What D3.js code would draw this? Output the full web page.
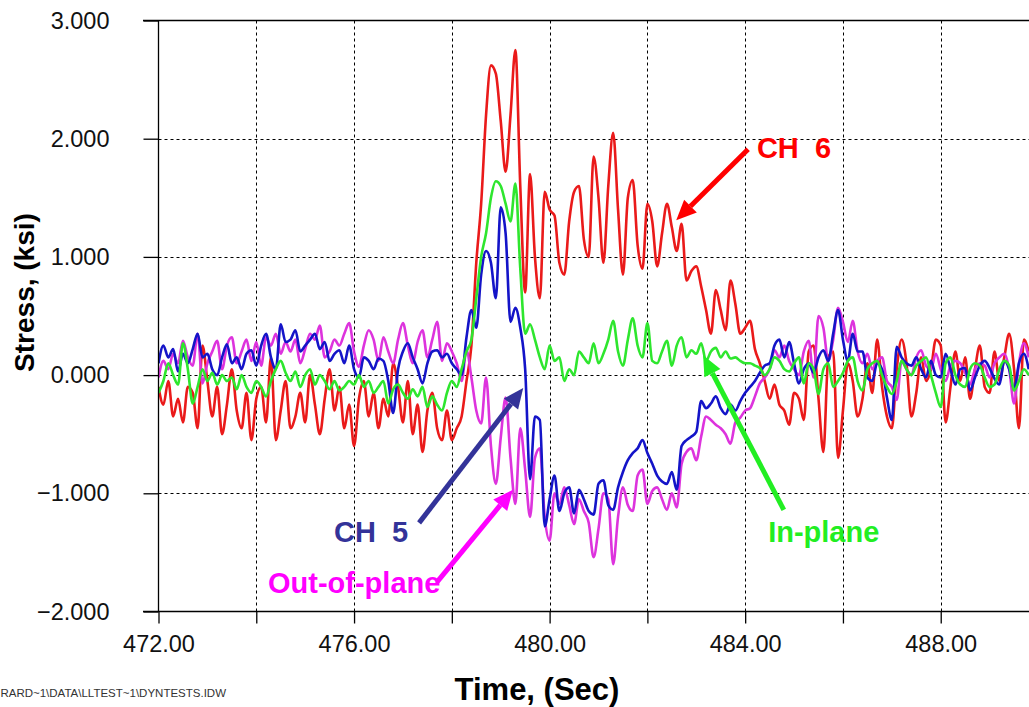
<!DOCTYPE html>
<html><head><meta charset="utf-8">
<script src="https://cdn.jsdelivr.net/npm/d3@7"></script>
<style>html,body{margin:0;padding:0;background:#fff;overflow:hidden}</style>
</head><body><svg id="c" width="1029" height="707"></svg>
<script>
// ---- data (sampled every 0.1 s from 472.0 s) ----
const tStart = 472.0, tStep = 0.1;

const ch6 = [
-0.10,-0.25,-0.05,-0.35,-0.20,-0.40,-0.10,-0.15,-0.45,0.25,
-0.05,-0.35,-0.10,-0.50,-0.25,0.05,-0.30,-0.45,-0.15,-0.55,
-0.20,-0.10,-0.40,0.15,-0.55,-0.30,-0.05,-0.45,-0.35,-0.15,
-0.40,0.00,-0.25,-0.50,-0.20,0.05,-0.30,-0.10,-0.45,-0.25,
-0.60,-0.20,-0.05,-0.35,-0.15,-0.45,-0.20,-0.35,0.10,-0.10,
-0.40,-0.05,-0.50,-0.25,-0.65,-0.30,-0.15,-0.45,-0.55,-0.30,
-0.55,-0.45,
-0.35,-0.05,0.25,0.95,1.45,2.20,2.62,2.55,2.15,1.72,
2.20,2.75,1.60,0.70,1.70,1.00,0.65,1.55,1.40,1.35,
0.95,0.85,1.30,1.55,1.60,1.15,1.00,1.85,1.50,0.95,
1.60,2.05,1.40,0.85,1.50,1.65,1.10,0.90,1.45,1.30,
0.92,1.20,1.45,1.25,1.05,1.28,0.80,0.88,0.92,0.75,
0.55,0.35,0.72,0.55,0.38,0.80,0.60,0.35,0.40,0.46,
0.22,0.10,-0.05,-0.20,
-0.08,-0.25,-0.30,-0.42,-0.15,-0.20,-0.38,0.20,0.25,-0.20,
-0.65,0.15,0.20,-0.70,-0.30,0.10,-0.05,-0.35,-0.20,0.10,
-0.15,0.30,-0.10,-0.35,-0.45,0.05,0.30,0.10,-0.35,-0.15,
0.15,-0.05,0.05,0.30,0.25,-0.40,-0.10,0.20,-0.05,0.15,
-0.20,0.05,0.25,-0.10,-0.15,0.20,-0.05,0.15,0.35,0.05,
-0.45,0.30,0.20];

const ch5 = [
0.10,0.25,0.15,0.22,0.03,0.18,0.10,0.22,0.35,0.15,
0.18,0.05,0.00,0.15,0.26,0.10,0.15,0.05,0.18,0.21,
0.08,0.25,0.35,0.15,0.05,0.43,0.28,0.30,0.38,0.20,
0.25,0.30,0.35,0.22,0.28,0.12,0.18,0.21,0.10,0.25,
0.05,-0.02,0.15,0.12,0.05,0.14,0.12,-0.05,-0.32,0.05,
0.20,0.27,0.15,0.05,-0.07,0.10,0.20,0.21,0.15,0.18,
0.10,0.05,
0.00,0.32,0.55,0.40,0.85,1.05,0.95,0.65,1.42,1.20,
0.45,0.57,0.40,0.05,-0.88,-0.35,-0.38,-1.28,-1.05,-0.85,
-1.15,-1.00,-0.95,-1.17,-0.97,-1.05,-1.15,-1.18,-0.92,-0.89,
-1.10,-1.14,-0.95,-0.82,-0.72,-0.66,-0.62,-0.55,-0.66,-0.75,
-0.85,-0.90,-0.92,-0.82,-0.97,-0.60,-0.55,-0.52,-0.48,-0.22,
-0.28,-0.24,-0.18,-0.28,-0.33,-0.25,-0.30,-0.22,-0.15,-0.10,
-0.05,0.02,0.08,0.10,
0.25,0.30,0.15,0.28,0.10,-0.07,0.05,0.10,0.02,0.15,
0.21,0.12,0.35,0.55,0.30,0.12,0.35,0.20,0.20,-0.02,
-0.05,0.10,0.05,-0.19,-0.38,0.24,0.15,0.10,0.08,0.15,
0.05,-0.02,0.12,0.00,-0.02,0.18,0.05,-0.08,0.05,0.06,
-0.13,-0.02,0.08,0.12,0.06,-0.03,-0.08,0.12,0.05,-0.12,
0.10,0.18,0.05];

const outOfPlane = [
-0.02,0.12,0.05,0.18,0.10,0.29,0.15,0.08,0.35,-0.07,
0.10,0.20,0.29,0.05,0.25,0.32,0.10,0.20,0.30,0.12,
0.28,0.08,0.32,0.25,0.35,0.18,0.28,0.20,0.30,0.10,
0.22,0.35,0.30,0.42,0.15,0.20,0.30,0.25,0.35,0.44,
0.20,0.07,0.25,0.38,0.30,0.12,0.32,0.20,0.10,0.30,
0.44,0.25,0.10,0.28,0.38,0.15,0.30,0.45,0.12,0.27,
0.20,0.10,
-0.05,0.21,-0.02,-0.30,-0.41,-0.02,-0.60,-0.92,-0.53,-0.19,
-0.70,-1.09,-0.45,-0.80,-1.20,-0.70,-0.62,-1.20,-1.40,-1.00,
-1.09,-0.95,-1.10,-1.26,-1.05,-1.15,-1.25,-1.54,-1.30,-1.00,
-1.05,-1.60,-1.20,-0.95,-1.10,-1.15,-0.85,-0.80,-1.09,-0.98,
-0.95,-1.05,-1.14,-1.00,-1.12,-0.75,-0.65,-0.62,-0.72,-0.52,
-0.35,-0.38,-0.42,-0.45,-0.50,-0.58,-0.40,-0.36,-0.30,-0.28,
-0.18,-0.07,-0.02,0.05,
0.21,0.15,0.25,0.12,0.05,0.00,0.20,0.29,-0.02,0.50,
0.40,0.12,0.30,0.57,0.45,0.28,0.46,0.20,0.10,0.18,
0.05,0.12,0.15,-0.05,-0.10,-0.21,0.12,0.05,0.00,0.15,
0.21,0.08,0.05,0.18,0.05,-0.05,0.08,0.12,0.10,0.02,
-0.08,0.05,0.10,0.08,-0.02,0.10,0.15,0.18,0.05,-0.24,
0.10,0.27,0.15];

const inPlane = [
-0.15,-0.05,0.10,0.00,-0.08,0.27,0.05,-0.24,-0.10,0.05,
-0.05,0.02,-0.08,0.00,-0.05,-0.02,-0.12,0.00,-0.10,-0.15,
-0.05,-0.10,-0.18,-0.05,0.05,0.12,0.02,-0.05,0.03,-0.10,
0.00,0.05,-0.08,0.00,-0.05,-0.12,-0.05,-0.13,-0.10,-0.05,
-0.08,0.00,-0.10,-0.05,-0.15,-0.10,-0.05,-0.24,-0.12,-0.08,
-0.15,-0.20,-0.12,-0.18,-0.10,-0.27,-0.18,-0.25,-0.30,-0.15,
-0.05,-0.10,
0.05,0.20,0.30,0.65,1.00,1.20,1.50,1.64,1.60,1.45,
1.30,1.62,0.90,0.35,0.43,0.30,0.15,0.05,0.25,0.12,
0.15,-0.05,0.05,0.00,0.20,0.15,0.10,0.27,0.10,0.18,
0.30,0.46,0.20,0.08,0.30,0.48,0.25,0.15,0.44,0.12,
0.10,0.20,0.29,0.08,0.25,0.32,0.15,0.21,0.18,0.27,
0.12,0.20,0.23,0.15,0.20,0.14,0.15,0.12,0.10,0.10,
0.08,0.06,0.00,0.05,
0.15,0.12,0.05,0.03,0.10,0.15,-0.07,0.10,0.05,-0.16,
0.05,0.10,-0.10,-0.05,0.02,0.12,0.15,-0.05,-0.13,0.05,
0.10,0.12,0.00,-0.10,-0.16,-0.05,0.12,0.05,0.00,0.08,
0.12,0.15,0.00,-0.15,-0.27,0.10,0.15,0.00,-0.08,-0.10,
0.05,0.10,0.08,-0.02,-0.10,-0.08,0.05,0.12,0.08,-0.13,
-0.05,0.05,0.00];

const xTicks = [472,474,476,478,480,482,484,486,488];
const xLabelTicks = [472,476,480,484,488];
const yTicks = [-2,-1,0,1,2,3];

const series = [
  {name:"CH 6", values: ch6, color:"#ea1a1a"},
  {name:"Out-of-plane", values: outOfPlane, color:"#dd33dd"},
  {name:"CH 5", values: ch5, color:"#1414c8"},
  {name:"In-plane", values: inPlane, color:"#2ee62e"}
];

const annotations = [
  {label:"CH  6", color:"#ff0000", tx:484.24, ty:1.84, from:[484.06,1.91], to:[482.59,1.31]},
  {label:"CH  5", color:"#333399", tx:475.59, ty:-1.41, from:[477.33,-1.25], to:[479.46,-0.11]},
  {label:"Out-of-plane", color:"#ff00ff", tx:474.24, ty:-1.845, from:[477.70,-1.75], to:[479.25,-0.97]},
  {label:"In-plane", color:"#22ee22", tx:484.47, ty:-1.414, from:[484.79,-1.14], to:[483.14,0.167]}
];

// ---- drawing ----
const W = 1029, H = 707;
const svg = d3.select("#c");
svg.append("rect").attr("width",W).attr("height",H).attr("fill","#fff");
const font = "'Liberation Sans', Arial, Helvetica, sans-serif";

const x = d3.scaleLinear().domain([472,490]).range([158.5,1038.5]);
const y = d3.scaleLinear().domain([-2,3]).range([611.5,20.5]);

// grid
const grid = svg.append("g").attr("stroke","#000").attr("stroke-width",1).attr("stroke-dasharray","3,3");
grid.selectAll("line.v").data(xTicks.filter(d=>d>472)).join("line")
  .attr("x1",d=>Math.round(x(d))+0.5).attr("x2",d=>Math.round(x(d))+0.5)
  .attr("y1",y(3)).attr("y2",y(-2));
grid.selectAll("line.h").data(yTicks.filter(d=>d>-2 && d<3)).join("line")
  .attr("x1",x(472)).attr("x2",W)
  .attr("y1",d=>Math.round(y(d))+0.5).attr("y2",d=>Math.round(y(d))+0.5);

// series lines
svg.append("clipPath").attr("id","clip").append("rect")
  .attr("x",x(472)).attr("y",y(3)).attr("width",W-x(472)).attr("height",y(-2)-y(3));
const line = d3.line().x((d,i)=>x(tStart+i*tStep)).y(d=>y(d)).curve(d3.curveMonotoneX);
svg.append("g").attr("clip-path","url(#clip)")
  .selectAll("path").data(series).join("path")
  .attr("d",d=>line(d.values)).attr("fill","none")
  .attr("stroke",d=>d.color).attr("stroke-width",2.6)
  .attr("stroke-linejoin","round");

// frame
const frame = svg.append("g").attr("stroke","#000").attr("stroke-width",1.3);
frame.append("line").attr("x1",143).attr("x2",W).attr("y1",y(3)).attr("y2",y(3));
frame.append("line").attr("x1",143).attr("x2",W).attr("y1",y(-2)).attr("y2",y(-2));
frame.append("line").attr("x1",x(472)).attr("x2",x(472)).attr("y1",y(3)).attr("y2",y(-2));

// axes
const yAxis = d3.axisLeft(y).tickValues(yTicks).tickFormat(d3.format(".3f"))
  .tickSize(15).tickPadding(34).tickSizeOuter(0);
const gy = svg.append("g").attr("transform",`translate(${x(472)},0)`).call(yAxis);
gy.select(".domain").remove();
gy.selectAll("line").attr("stroke","#000").attr("stroke-width",1.3);
gy.selectAll("text").attr("font-family",font).attr("font-size",23.5).attr("fill","#111");

const xAxis = d3.axisBottom(x).tickValues(xTicks)
  .tickFormat(d=>xLabelTicks.includes(d)?d3.format(".2f")(d):"")
  .tickSize(12).tickPadding(12).tickSizeOuter(0);
const gx = svg.append("g").attr("transform",`translate(0,${y(-2)})`).call(xAxis);
gx.select(".domain").remove();
gx.selectAll("line").attr("stroke","#000").attr("stroke-width",1.3);
gx.selectAll("text").attr("font-family",font).attr("font-size",23.5).attr("fill","#111");

// axis titles
svg.append("text").text("Time, (Sec)").attr("x",537).attr("y",700)
  .attr("text-anchor","middle").attr("font-family",font).attr("font-weight","bold")
  .attr("font-size",31).attr("fill","#000");
svg.append("text").text("Stress, (ksi)")
  .attr("transform","translate(34,292.5) rotate(-90)")
  .attr("text-anchor","middle").attr("font-family",font).attr("font-weight","bold")
  .attr("font-size",28).attr("fill","#000");

// file path footer
svg.append("text").text("RARD~1\\DATA\\LLTEST~1\\DYNTESTS.IDW")
  .attr("x",226).attr("y",697).attr("text-anchor","end")
  .attr("font-family",font).attr("font-size",11.5).attr("fill","#333");

// annotations
const ann = svg.append("g");
annotations.forEach(a=>{
  const x1 = x(a.from[0]), y1 = y(a.from[1]), x2 = x(a.to[0]), y2 = y(a.to[1]);
  const ang = Math.atan2(y2-y1, x2-x1);
  const hl = 20, hw = 9;
  const bx = x2 - hl*Math.cos(ang), by = y2 - hl*Math.sin(ang);
  ann.append("line").attr("x1",x1).attr("y1",y1).attr("x2",bx).attr("y2",by)
    .attr("stroke",a.color).attr("stroke-width",5);
  const px = -Math.sin(ang), py = Math.cos(ang);
  ann.append("polygon")
    .attr("points",[[x2,y2],[bx+px*hw,by+py*hw],[bx-px*hw,by-py*hw]].map(p=>p.join(",")).join(" "))
    .attr("fill",a.color);
  ann.append("text").text(a.label).attr("x",x(a.tx)).attr("y",y(a.ty))
    .attr("font-family",font).attr("font-weight","bold").attr("font-size",29)
    .attr("fill",a.color).style("white-space","pre");
});
</script></body></html>
